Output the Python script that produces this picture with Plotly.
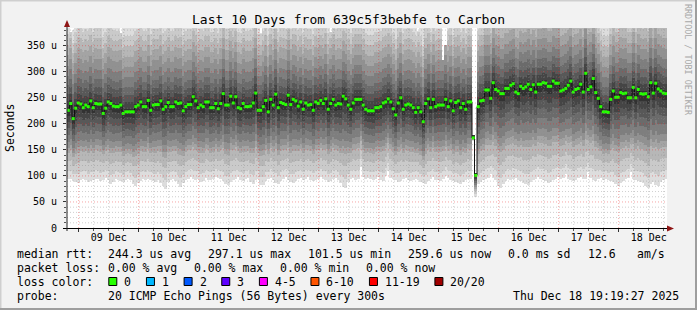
import plotly.graph_objects as go
import pandas as pd

# ---------------- data ----------------
start_time = "2025-12-08 19:19:27"
end_time = "2025-12-18 19:19:27"
n_cols = 240  # one column per hour

# median RTT per column (microseconds)
median_us = [
    226, 239, 210, 230, 240, 238, 231, 236, 233, 244,
    231, 239, 238, 238, 220, 230, 242, 239, 234, 233,
    233, 236, 220, 223, 223, 223, 223, 233, 236, 242,
    233, 233, 245, 226, 236, 237, 237, 244, 228, 233,
    241, 233, 233, 242, 239, 240, 225, 233, 237, 237,
    252, 244, 231, 236, 233, 242, 242, 231, 231, 239,
    229, 239, 258, 236, 236, 253, 240, 252, 231, 229,
    239, 233, 233, 234, 240, 259, 226, 226, 233, 245,
    223, 247, 236, 257, 231, 241, 239, 237, 255, 237,
    247, 244, 234, 242, 228, 240, 236, 237, 226, 242,
    239, 245, 239, 248, 228, 239, 247, 236, 239, 238,
    253, 248, 236, 228, 240, 247, 247, 247, 236, 228,
    225, 225, 225, 231, 231, 233, 240, 242, 248, 242,
    229, 217, 240, 250, 228, 236, 238, 236, 231, 222,
    231, 223, 204, 239, 248, 231, 247, 233, 236, 236,
    236, 247, 233, 244, 225, 241, 244, 231, 239, 228,
    242, 242, 173, 101, 233, 244, 245, 265, 265, 249,
    279, 266, 263, 258, 258, 268, 268, 274, 277, 261,
    258, 272, 268, 271, 276, 266, 275, 261, 276, 276,
    279, 278, 272, 272, 282, 278, 278, 263, 265, 268,
    274, 282, 261, 266, 268, 276, 261, 297, 266, 271,
    287, 260, 249, 233, 223, 223, 222, 247, 263, 251,
    251, 260, 258, 259, 250, 250, 270, 250, 266, 258,
    257, 258, 252, 279, 259, 278, 267, 263, 259, 258,
]

# lowest ping per column (lower edge of the smoke)
min_us = [
    95, 94, 90, 88, 86, 92, 95, 93, 88, 90,
    92, 95, 94, 90, 93, 96, 92, 85, 88, 94,
    92, 90, 88, 93, 95, 92, 84, 80, 86, 90,
    94, 92, 95, 93, 90, 88, 92, 86, 80, 75,
    88, 92, 95, 90, 84, 78, 86, 92, 95, 97,
    95, 92, 94, 88, 90, 96, 93, 92, 95, 98,
    96, 94, 90, 84, 82, 88, 93, 95, 97, 92,
    90, 94, 96, 88, 84, 92, 95, 83, 82, 90,
    94, 96, 92, 86, 84, 90, 95, 97, 93, 88,
    86, 90, 94, 96, 92, 95, 97, 93, 90, 92,
    95, 97, 94, 92, 88, 90, 95, 96, 92, 86,
    78, 76, 88, 94, 96, 92, 95, 118, 97, 94,
    96, 94, 92, 95, 97, 93, 90, 100, 110, 96,
    94, 92, 88, 90, 94, 96, 92, 90, 93, 95,
    92, 88, 86, 84, 90, 95, 97, 93, 92, 90,
    94, 100, 96, 92, 90, 88, 86, 84, 88, 92,
    95, 94, 168, 60, 85, 88, 92, 94, 96, 104,
    96, 92, 80, 76, 84, 90, 94, 92, 95, 96,
    93, 90, 86, 84, 82, 88, 92, 95, 97, 94,
    92, 90, 86, 88, 92, 95, 97, 94, 96, 104,
    95, 92, 90, 93, 96, 97, 94, 95, 108, 96,
    92, 90, 94, 96, 93, 95, 92, 90, 88, 84,
    80, 86, 90, 94, 96, 108, 95, 92, 90, 88,
    86, 80, 76, 84, 88, 82, 80, 88, 92, 94,
]

# highest ping per column where it stays below the top of the graph
max_default_us = 430
max_notches_us = {1: 376, 2: 380, 21: 374, 77: 374, 105: 376, 140: 378,
                  150: 322, 151: 352, 162: 178, 163: 106}

# typical smoke shape: position of pings 1..10 between min and median,
# and of pings 11..20 above the median (us)
lower_frac = [0.0, 0.11, 0.25, 0.38, 0.45, 0.53, 0.64, 0.74, 0.83, 0.92]
upper_off_us = [6, 18, 32, 48, 66, 86, 106, 126, 146, 190]

y_tick_vals = [0, 50, 100, 150, 200, 250, 300, 350]
y_tick_text = ["0", "50 u", "100 u", "150 u", "200 u", "250 u", "300 u", "350 u"]
y_max = 384

loss_labels = ["0", "1", "2", "3", "4-5", "6-10", "11-19", "20/20"]
loss_colors = ["#26ff00", "#00b8ff", "#0059ff", "#5e00ff", "#ff00ff",
               "#ff5500", "#ff0000", "#a00000"]

title_text = "Last 10 Days from 639c5f3bebfe to Carbon"
rtt_items = ["244.3 us avg", "297.1 us max", "101.5 us min", "259.6 us now",
             "0.0 ms sd", "12.6", "am/s"]
loss_items = ["0.00 % avg", "0.00 % max", "0.00 % min", "0.00 % now"]
probe_text = "20 ICMP Echo Pings (56 Bytes) every 300s"
stamp_text = "Thu Dec 18 19:19:27 2025"

# ---------------- build ----------------
W, H = 697, 310
L, R, T, B = 67, 30, 28, 82
PW, PH = W - L - R, H - T - B


def px(x):
    return (x - L) / PW


def py(y):
    return (T + PH - y) / PH


t0 = pd.Timestamp(start_time)
t1 = pd.Timestamp(end_time)
step = (t1 - t0) / n_cols
centers = [t0 + step * (i + 0.5) for i in range(n_cols)]
edges = [t0 + step * i for i in range(n_cols + 1)]
width_ms = step.total_seconds() * 1000 * 1.12

max_us = [max_notches_us.get(i, max_default_us) for i in range(n_cols)]

fig = go.Figure()
half = 10
for ib in range(1, half + 1):
    g = int(190 / half * (half - ib)) + 50
    bases, heights = [], []
    for i in range(n_cols):
        med, lo, hi = median_us[i], min_us[i], max_us[i]
        bot = lo + lower_frac[ib - 1] * (med - lo)
        top = min(med + upper_off_us[half - ib], hi)
        top = max(top, bot)
        bases.append(bot)
        heights.append(top - bot)
    fig.add_trace(go.Bar(x=centers, y=heights, base=bases, width=width_ms,
                         marker=dict(color=f"rgb({g},{g},{g})", line=dict(width=0)),
                         hoverinfo="skip", showlegend=False))

fig.add_trace(go.Scatter(x=edges, y=median_us + [median_us[-1]], mode="lines",
                         line=dict(color="#111111", width=1, shape="hv"),
                         hoverinfo="skip", showlegend=False))
fig.add_trace(go.Scatter(x=centers, y=median_us, mode="markers",
                         marker=dict(symbol="square", size=3, color=loss_colors[0],
                                     line=dict(width=0)),
                         hoverinfo="skip", showlegend=False))

shapes = []
# grid above the smoke
tg = pd.Timestamp("2025-12-08 00:00:00")
while tg <= t1:
    if tg > t0:
        major = tg.hour == 0
        shapes.append(dict(type="line", xref="x", yref="paper", x0=tg, x1=tg, y0=0, y1=1,
                           layer="above",
                           line=dict(color="rgba(230,40,40,0.42)" if major else "rgba(140,140,140,0.42)",
                                     width=1, dash="1px,2px")))
    tg += pd.Timedelta(hours=6)
for v in range(10, y_max, 10):
    major = v % 50 == 0
    shapes.append(dict(type="line", xref="paper", yref="y", x0=0, x1=1, y0=v, y1=v,
                       layer="above",
                       line=dict(color="rgba(230,40,40,0.42)" if major else "rgba(140,140,140,0.42)",
                                 width=1, dash="1px,2px")))

# axes lines and arrows
shapes.append(dict(type="line", xref="paper", yref="paper", x0=px(63), x1=px(669),
                   y0=py(228.5), y1=py(228.5), line=dict(color="#000000", width=1)))
shapes.append(dict(type="line", xref="paper", yref="paper", x0=px(67), x1=px(67),
                   y0=py(231), y1=py(24), line=dict(color="#222222", width=1)))
arrow_col = "#8f1515"
shapes.append(dict(type="path", xref="paper", yref="paper",
                   path=f"M {px(64)},{py(27)} L {px(70)},{py(27)} L {px(67)},{py(20)} Z",
                   fillcolor=arrow_col, line=dict(width=0)))
shapes.append(dict(type="path", xref="paper", yref="paper",
                   path=f"M {px(667)},{py(225.5)} L {px(667)},{py(231.5)} L {px(674)},{py(228.5)} Z",
                   fillcolor=arrow_col, line=dict(width=0)))

# frame
shapes.append(dict(type="line", xref="paper", yref="paper", x0=px(0), x1=px(697),
                   y0=py(0.5), y1=py(0.5), line=dict(color="#cfcfcf", width=2)))
shapes.append(dict(type="line", xref="paper", yref="paper", x0=px(0.5), x1=px(0.5),
                   y0=py(0), y1=py(310), line=dict(color="#cfcfcf", width=2)))
shapes.append(dict(type="line", xref="paper", yref="paper", x0=px(0), x1=px(697),
                   y0=py(309), y1=py(309), line=dict(color="#9e9e9e", width=2)))
shapes.append(dict(type="line", xref="paper", yref="paper", x0=px(696), x1=px(696),
                   y0=py(0), y1=py(310), line=dict(color="#9e9e9e", width=2)))

MONO = "DejaVu Sans Mono"
ann = []


def text(x, y, s, size=11.5, anchor="left", color="#000000", angle=0):
    ann.append(dict(x=px(x), y=py(y), xref="paper", yref="paper", text=s,
                    showarrow=False, xanchor=anchor, yanchor="middle", textangle=angle,
                    font=dict(family=MONO, size=size, color=color), borderpad=0))


text(348, 19, title_text, size=13, anchor="center")
text(10, 128, "Seconds", size=11.5, anchor="center", angle=-90)
text(688, 60, "RRDTOOL / TOBI OETIKER", size=8.4, anchor="center", color="#a8a8a8", angle=90)

LEG = 11.5
text(16, 254, "median rtt:", LEG)
for k, s in enumerate(rtt_items[:5]):
    text(107.3 + 100 * k, 254, s, LEG)
text(586.7, 254, rtt_items[5], LEG)
text(635.7, 254, rtt_items[6], LEG)

text(16, 268, "packet loss:", LEG)
for k, s in enumerate(loss_items):
    text(107.3 + 86 * k, 268, s, LEG)

text(16, 282, "loss color:", LEG)
cw = 6.95
bx = 108.3
for lab, col in zip(loss_labels, loss_colors):
    shapes.append(dict(type="rect", xref="paper", yref="paper",
                       x0=px(bx + 0.5), x1=px(bx + 8.5), y0=py(277.5), y1=py(285.5),
                       fillcolor=col, line=dict(color="#000000", width=1)))
    text(bx + 15, 282, lab, LEG)
    bx = bx + 15 + len(lab) * cw + 15.7

text(16, 296, "probe:", LEG)
text(107.3, 296, probe_text, LEG)
text(680, 296, stamp_text, LEG, anchor="right")

fig.update_layout(
    width=W, height=H,
    margin=dict(l=L, r=R, t=T, b=B, pad=0),
    paper_bgcolor="#f2f2f2", plot_bgcolor="#ffffff",
    barmode="overlay", bargap=0, showlegend=False,
    shapes=shapes, annotations=ann,
    font=dict(family=MONO, size=10, color="#000000"),
    xaxis=dict(type="date", range=[t0, t1], showgrid=False, zeroline=False,
               showline=False, tick0="2025-12-09", dtick=86400000,
               tickformat="%d %b", ticklabelmode="period",
               ticks="outside", ticklen=3, tickcolor="#333333",
               tickfont=dict(family=MONO, size=10, color="#000000"),
               ticklabelstandoff=-3,
               minor=dict(dtick=6 * 3600000, ticks="outside", ticklen=2,
                          tickcolor="#555555", showgrid=False)),
    yaxis=dict(range=[0, y_max], showgrid=False, zeroline=False, showline=False,
               tickvals=y_tick_vals, ticktext=y_tick_text,
               ticks="outside", ticklen=3, tickcolor="#333333",
               tickfont=dict(family=MONO, size=10, color="#000000"),
               ticklabelstandoff=4,
               minor=dict(dtick=10, ticks="outside", ticklen=2,
                          tickcolor="#555555", showgrid=False)),
)

fig.write_html("out.html", config={"displayModeBar": False})
